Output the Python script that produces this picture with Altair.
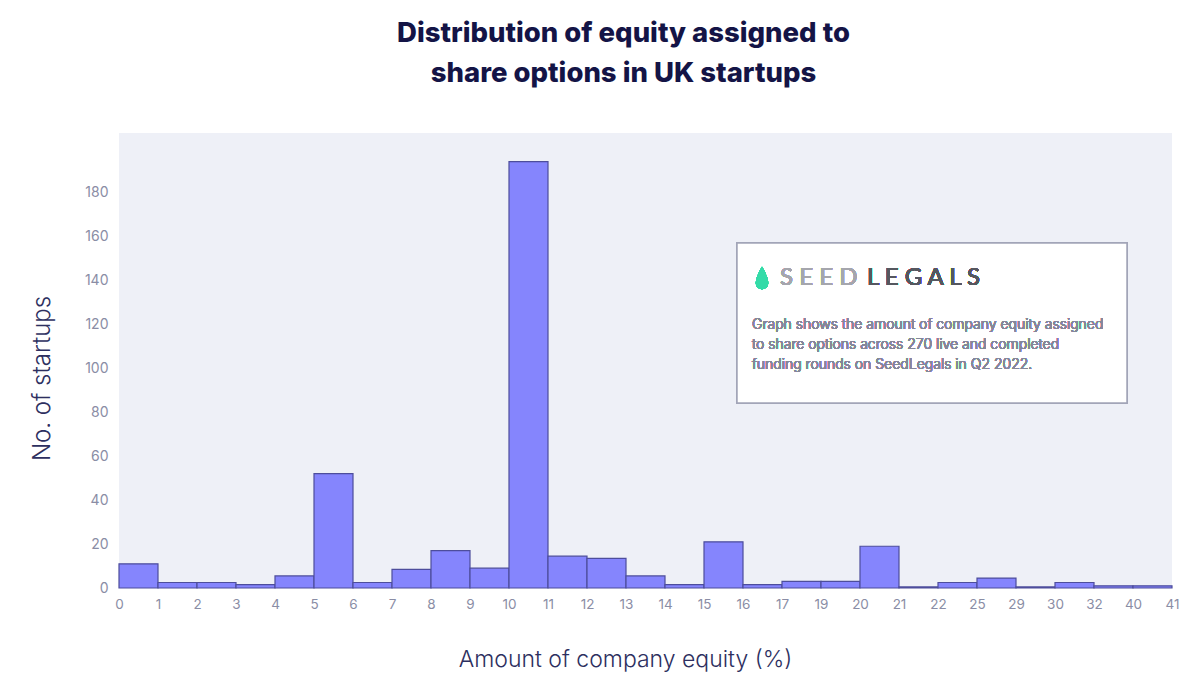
import json
import altair as alt
import pandas as pd

# Bin edge labels (x axis) and counts per bin
edges = ["0", "1", "2", "3", "4", "5", "6", "7", "8", "9", "10", "11", "12", "13",
         "14", "15", "16", "17", "19", "20", "21", "22", "25", "29", "30", "32", "40", "41"]
counts = [11, 2.5, 2.5, 1.5, 5.5, 52, 2.5, 8.5, 17, 9, 194, 14.5, 13.5, 5.5,
          1.5, 21, 1.5, 3, 3, 19, 0.5, 2.5, 4.5, 0.5, 2.5, 1, 1]
y_ticks = [0, 20, 40, 60, 80, 100, 120, 140, 160, 180]

title_lines = ["Distribution of equity assigned to", "share options in UK startups"]
note_lines = ["Graph shows the amount of company equity assigned",
              "to share options across 270 live and completed",
              "funding rounds on SeedLegals in Q2 2022."]

df = pd.DataFrame({
    "start": list(range(len(counts))),
    "end": [i + 1 for i in range(len(counts))],
    "base": [0] * len(counts),
    "count": counts,
    "bin": [f"{edges[i]}-{edges[i+1]}" for i in range(len(counts))],
})

W, H = 1053, 455
label_expr = json.dumps(edges) + "[datum.value]"

bars = alt.Chart(df).mark_bar(
    fill="#8585fd", stroke="#4d4d9c", strokeWidth=1.2, opacity=1
).encode(
    x=alt.X("start:Q",
            scale=alt.Scale(domain=[0, len(counts)], nice=False, zero=False),
            axis=alt.Axis(values=list(range(len(edges))), labelExpr=label_expr,
                          title="Amount of company equity (%)",
                          ticks=False, domain=False, grid=False,
                          labelFlush=False, labelOverlap=False,
                          labelPadding=9, labelFontSize=13.5, labelColor="#8a8da5",
                          labelFont="Inter", titleFont="Inter", titleFontSize=23,
                          titleFontWeight=300, titleColor="#2d2f60", titlePadding=38,
                          titleX=506, titleAlign="center")),
    x2="end:Q",
    y=alt.Y("count:Q",
            scale=alt.Scale(domain=[0, 207], nice=False),
            axis=alt.Axis(values=y_ticks, title="No. of startups",
                          ticks=False, domain=False, grid=False,
                          labelPadding=11, labelFontSize=14, labelColor="#8a8da5",
                          labelFont="Inter", titleFont="Inter", titleFontSize=24,
                          titleFontWeight=300, titleColor="#2d2f60", titlePadding=30,
                          titleY=245, titleAlign="center")),
    y2="base:Q",
    tooltip=["bin:N", "count:Q"],
)

box = alt.Chart(df).mark_rect(fill="white", stroke="#a3a5b8", strokeWidth=1.5).encode(
    x=alt.value(618), x2=alt.value(1008), y=alt.value(110), y2=alt.value(270)
)

drop_path = "M0,-1 C0.35,-0.4 0.55,0.1 0.55,0.45 A0.55,0.55 0 0 1 -0.55,0.45 C-0.55,0.1 -0.35,-0.4 0,-1 Z"
drop = alt.Chart(df).mark_point(shape=drop_path, filled=True, fill="#34dba8",
                                size=500, opacity=1).encode(
    x=alt.value(643), y=alt.value(145)
)

seed = alt.Chart(df).mark_text(text="S E E D", align="left", baseline="middle",
                               font="Lato", fontSize=24, color="#a5a6ad").encode(
    x=alt.value(661), y=alt.value(145)
)
legals = alt.Chart(df).mark_text(text="L E G A L S", align="left", baseline="middle",
                                 font="Lato", fontSize=24, color="#55575f").encode(
    x=alt.value(748), y=alt.value(145)
)

note = alt.Chart(df).mark_text(text=note_lines, align="left", baseline="top",
                               font="Inter", fontSize=14, fontWeight=300, lineHeight=20,
                               color="#85879a").encode(
    x=alt.value(633), y=alt.value(185)
)

chart = alt.layer(bars, box, drop, seed, legals, note).properties(
    width=W, height=H,
    background="white",
    autosize=alt.AutoSizeParams(type="none"),
    padding={"left": 111, "top": 125, "right": 20, "bottom": 100},
    title=alt.TitleParams(title_lines, anchor="middle", frame="group", dx=-22,
                          font="Inter", fontSize=27.5, fontWeight=800,
                          color="#141446", lineHeight=40, offset=46),
).configure_view(fill="#eef0f7", stroke="transparent", strokeWidth=0)

chart.save("out.html", embed_options={"renderer": "svg", "actions": False})
